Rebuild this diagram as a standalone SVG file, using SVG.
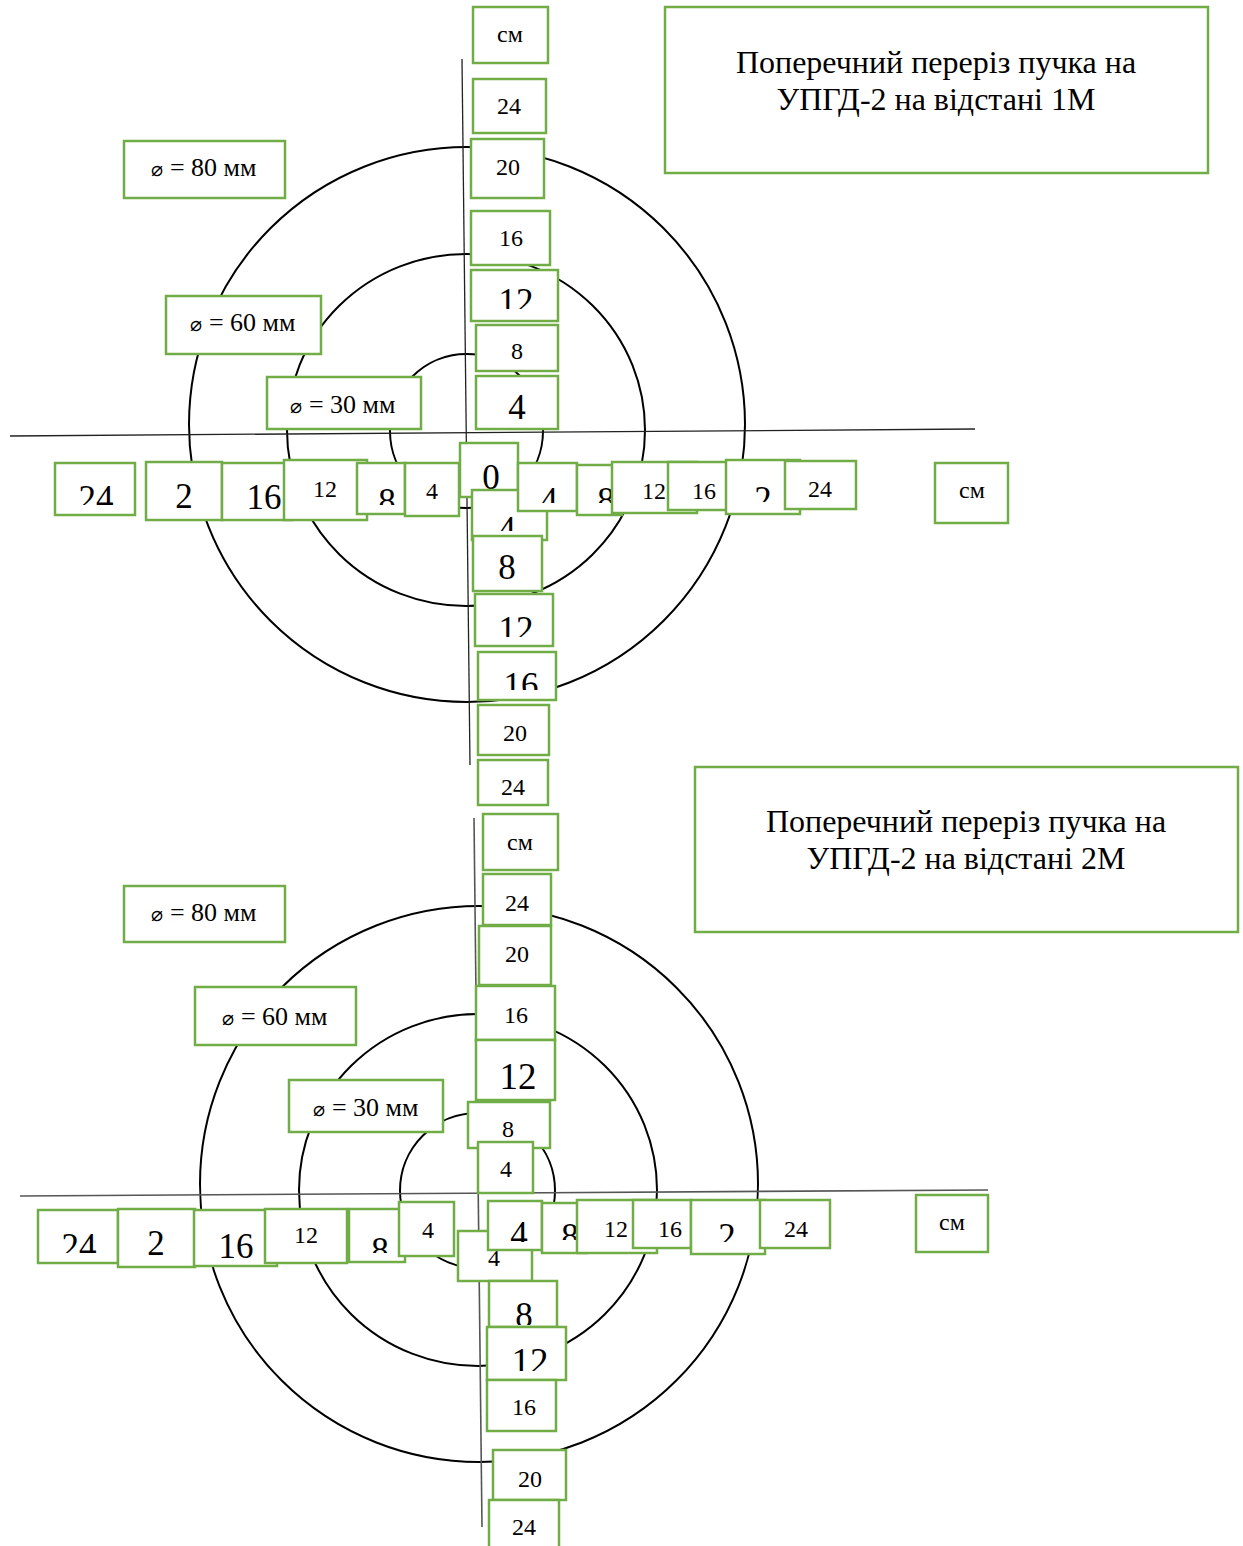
<svg xmlns="http://www.w3.org/2000/svg" width="1243" height="1546" viewBox="0 0 1243 1546">
<style>
.b{fill:#fff;stroke:#70AD47;stroke-width:2.5}
.t{font-family:"Liberation Serif","DejaVu Serif",serif;text-anchor:middle;fill:#000}
.s{font-size:24px}
.L{font-size:35px}
.c{fill:none;stroke:#000;stroke-width:2}
.ax{stroke:#222;stroke-width:1.3;fill:none}
.ax2{stroke:#555;stroke-width:1.6;fill:none}
.lb{font-size:26px}
.dm{font-size:20px;font-family:"DejaVu Serif","Liberation Serif",serif}
.ti{font-size:32px}
</style>
<rect width="1243" height="1546" fill="#fff"/>
<g id="connectors">
<ellipse class="c" cx="467" cy="424.5" rx="278" ry="277.5"/>
<ellipse class="c" cx="466" cy="430" rx="179" ry="176"/>
<ellipse class="c" cx="466.5" cy="431" rx="76.5" ry="77"/>
<line class="ax" x1="10" y1="436" x2="975" y2="429"/>
<line class="ax" x1="462" y1="59" x2="470" y2="765"/>
<ellipse class="c" cx="479" cy="1184" rx="279" ry="278"/>
<ellipse class="c" cx="478" cy="1190" rx="179" ry="176"/>
<ellipse class="c" cx="477.5" cy="1190.5" rx="77.5" ry="77.5"/>
<line class="ax2" x1="20" y1="1196" x2="988" y2="1190"/>
<line class="ax2" x1="474" y1="818" x2="482" y2="1527"/>
</g>
<g id="top-diagram">
<g id="t-title"><rect class="b" x="665" y="7" width="543" height="166"/><text class="t ti" x="936" y="73">Поперечний переріз пучка на</text><text class="t ti" x="936" y="110">УПГД-2 на відстані 1М</text></g>
<g id="t-d80"><rect class="b" x="124" y="141" width="161" height="57"/><text class="t lb" x="204" y="176"><tspan class="dm">⌀</tspan> = 80 мм</text></g>
<g id="t-d60"><rect class="b" x="166" y="296" width="155" height="58"/><text class="t lb" x="243" y="331"><tspan class="dm">⌀</tspan> = 60 мм</text></g>
<g id="t-d30"><rect class="b" x="267" y="377" width="154" height="52"/><text class="t lb" x="343" y="413"><tspan class="dm">⌀</tspan> = 30 мм</text></g>
<g id="tv-cm"><rect class="b" x="473" y="7" width="75" height="56"/><text class="t s" x="510" y="42">см</text></g>
<g id="tv-24"><rect class="b" x="473" y="79" width="73" height="54"/><text class="t s" x="509" y="114">24</text></g>
<g id="tv-20"><rect class="b" x="471" y="139" width="73" height="59"/><text class="t s" x="508" y="175">20</text></g>
<g id="tv-16"><rect class="b" x="471" y="211" width="79" height="54"/><text class="t s" x="511" y="246">16</text></g>
<g id="tv-12"><rect class="b" x="471" y="270" width="87" height="51"/><svg x="473" y="272" width="83" height="37" viewBox="473 272 83 37"><text class="t L" x="516" y="313">12</text></svg></g>
<g id="tv-8"><rect class="b" x="476" y="325" width="82" height="46"/><text class="t s" x="517" y="359">8</text></g>
<g id="tv-4"><rect class="b" x="476" y="376" width="82" height="53"/><text class="t L" x="517" y="419">4</text></g>
<g id="th-24"><rect class="b" x="55" y="463" width="80" height="52"/><svg x="57" y="465" width="76" height="40" viewBox="57 465 76 40"><text class="t L" x="96" y="510">24</text></svg></g>
<g id="th-2"><rect class="b" x="146" y="462" width="76" height="58"/><text class="t L" x="184" y="508">2</text></g>
<g id="th-16"><rect class="b" x="222" y="463" width="70" height="57"/><text class="t L" x="264" y="509">16</text></g>
<g id="th-12"><rect class="b" x="284" y="460" width="83" height="60"/><text class="t s" x="325" y="497">12</text></g>
<g id="th-8"><rect class="b" x="357" y="463" width="48" height="51"/><svg x="359" y="465" width="44" height="40" viewBox="359 465 44 40"><text class="t L" x="387" y="513">8</text></svg></g>
<g id="th-4"><rect class="b" x="405" y="463" width="54" height="53"/><text class="t s" x="432" y="499">4</text></g>
<g id="t-0"><rect class="b" x="460" y="443" width="58" height="54"/><text class="t L" x="491" y="489">0</text></g>
<g id="tv-4b"><rect class="b" x="472" y="490" width="75" height="50"/><svg x="474" y="492" width="71" height="39" viewBox="474 492 71 39"><text class="t L" x="507" y="541">4</text></svg></g>
<g id="thr-4"><rect class="b" x="518" y="463" width="59" height="48"/><svg x="520" y="465" width="55" height="38" viewBox="520 465 55 38"><text class="t L" x="549" y="512">4</text></svg></g>
<g id="thr-8"><rect class="b" x="577" y="465" width="45" height="50"/><svg x="579" y="467" width="41" height="36" viewBox="579 467 41 36"><text class="t L" x="606" y="512">8</text></svg></g>
<g id="thr-12"><rect class="b" x="612" y="462" width="85" height="51"/><text class="t s" x="654" y="499">12</text></g>
<g id="thr-16"><rect class="b" x="668" y="462" width="59" height="48"/><text class="t s" x="704" y="499">16</text></g>
<g id="thr-2"><rect class="b" x="726" y="460" width="74" height="54"/><svg x="728" y="462" width="70" height="40" viewBox="728 462 70 40"><text class="t L" x="763" y="511">2</text></svg></g>
<g id="thr-24"><rect class="b" x="785" y="461" width="71" height="48"/><text class="t s" x="820" y="497">24</text></g>
<g id="thr-cm"><rect class="b" x="935" y="463" width="73" height="60"/><text class="t s" x="972" y="498">см</text></g>
<g id="tv-8b"><rect class="b" x="473" y="536" width="69" height="55"/><svg x="475" y="538" width="65" height="44" viewBox="475 538 65 44"><text class="t L" x="507" y="579">8</text></svg></g>
<g id="tv-12b"><rect class="b" x="475" y="594" width="78" height="52"/><svg x="477" y="596" width="74" height="41" viewBox="477 596 74 41"><text class="t L" x="516" y="641">12</text></svg></g>
<g id="tv-16b"><rect class="b" x="478" y="652" width="78" height="48"/><svg x="480" y="654" width="74" height="36" viewBox="480 654 74 36"><text class="t L" x="521" y="697">16</text></svg></g>
<g id="tv-20b"><rect class="b" x="478" y="705" width="71" height="50"/><text class="t s" x="515" y="741">20</text></g>
<g id="tv-24b"><rect class="b" x="478" y="760" width="70" height="45"/><text class="t s" x="513" y="795">24</text></g>
</g>
<g id="bottom-diagram">
<g id="b-title"><rect class="b" x="695" y="767" width="543" height="165"/><text class="t ti" x="966" y="832">Поперечний переріз пучка на</text><text class="t ti" x="966" y="869">УПГД-2 на відстані 2М</text></g>
<g id="b-d80"><rect class="b" x="124" y="886" width="161" height="56"/><text class="t lb" x="204" y="921"><tspan class="dm">⌀</tspan> = 80 мм</text></g>
<g id="b-d60"><rect class="b" x="195" y="987" width="161" height="58"/><text class="t lb" x="275" y="1025"><tspan class="dm">⌀</tspan> = 60 мм</text></g>
<g id="b-d30"><rect class="b" x="289" y="1080" width="154" height="52"/><text class="t lb" x="366" y="1116"><tspan class="dm">⌀</tspan> = 30 мм</text></g>
<g id="bv-cm"><rect class="b" x="483" y="814" width="75" height="56"/><text class="t s" x="520" y="850">см</text></g>
<g id="bv-24"><rect class="b" x="483" y="874" width="68" height="51"/><text class="t s" x="517" y="911">24</text></g>
<g id="bv-20"><rect class="b" x="479" y="926" width="72" height="59"/><text class="t s" x="517" y="962">20</text></g>
<g id="bv-16"><rect class="b" x="476" y="986" width="79" height="54"/><text class="t s" x="516" y="1023">16</text></g>
<g id="bv-12"><rect class="b" x="476" y="1040" width="79" height="60"/><text class="t" font-size="37" x="518" y="1089">12</text></g>
<g id="bv-8"><rect class="b" x="468" y="1102" width="82" height="46"/><text class="t s" x="508" y="1137">8</text></g>
<g id="bv-4"><rect class="b" x="478" y="1142" width="55" height="51"/><text class="t s" x="506" y="1177">4</text></g>
<g id="bh-24"><rect class="b" x="38" y="1210" width="80" height="53"/><svg x="40" y="1212" width="76" height="41" viewBox="40 1212 76 41"><text class="t L" x="79" y="1258">24</text></svg></g>
<g id="bh-2"><rect class="b" x="118" y="1209" width="77" height="58"/><text class="t L" x="156" y="1255">2</text></g>
<g id="bh-16"><rect class="b" x="194" y="1210" width="83" height="56"/><text class="t L" x="236" y="1258">16</text></g>
<g id="bh-12"><rect class="b" x="265" y="1209" width="82" height="54"/><text class="t s" x="306" y="1243">12</text></g>
<g id="bh-8"><rect class="b" x="349" y="1209" width="56" height="53"/><svg x="351" y="1211" width="52" height="42" viewBox="351 1211 52 42"><text class="t L" x="380" y="1262">8</text></svg></g>
<g id="bh-4"><rect class="b" x="399" y="1202" width="55" height="54"/><text class="t s" x="428" y="1238">4</text></g>
<g id="b-4s"><rect class="b" x="458" y="1231" width="74" height="50"/><text class="t s" x="494" y="1266">4</text></g>
<g id="b-4L"><rect class="b" x="488" y="1201" width="54" height="49"/><svg x="490" y="1203" width="50" height="39" viewBox="490 1203 50 39"><text class="t L" x="519" y="1246">4</text></svg></g>
<g id="br-8"><rect class="b" x="542" y="1203" width="45" height="50"/><svg x="544" y="1205" width="41" height="35" viewBox="544 1205 41 35"><text class="t L" x="570" y="1248">8</text></svg></g>
<g id="br-12"><rect class="b" x="577" y="1200" width="80" height="53"/><text class="t s" x="616" y="1237">12</text></g>
<g id="br-16"><rect class="b" x="633" y="1200" width="58" height="48"/><text class="t s" x="670" y="1237">16</text></g>
<g id="br-2"><rect class="b" x="691" y="1200" width="74" height="54"/><svg x="693" y="1202" width="70" height="40" viewBox="693 1202 70 40"><text class="t L" x="727" y="1248">2</text></svg></g>
<g id="br-24"><rect class="b" x="760" y="1200" width="70" height="48"/><text class="t s" x="796" y="1237">24</text></g>
<g id="br-cm"><rect class="b" x="916" y="1195" width="72" height="57"/><text class="t s" x="952" y="1230">см</text></g>
<g id="bv-8b"><rect class="b" x="489" y="1281" width="68" height="46"/><svg x="491" y="1283" width="64" height="42" viewBox="491 1283 64 42"><text class="t L" x="524" y="1327">8</text></svg></g>
<g id="bv-12b"><rect class="b" x="487" y="1327" width="79" height="53"/><svg x="489" y="1329" width="75" height="42" viewBox="489 1329 75 42"><text class="t" font-size="37" x="530" y="1374">12</text></svg></g>
<g id="bv-16b"><rect class="b" x="487" y="1380" width="69" height="51"/><text class="t s" x="524" y="1415">16</text></g>
<g id="bv-20b"><rect class="b" x="493" y="1450" width="73" height="50"/><text class="t s" x="530" y="1487">20</text></g>
<g id="bv-24b"><rect class="b" x="489" y="1500" width="70" height="50"/><text class="t s" x="524" y="1535">24</text></g>
</g>
</svg>
